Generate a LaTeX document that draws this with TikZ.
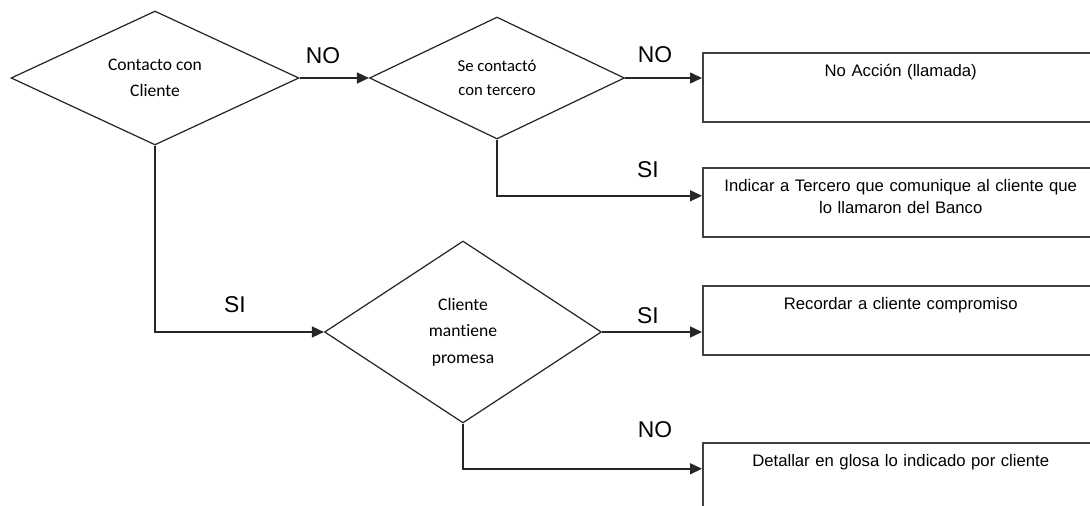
\documentclass[tikz,border=0pt]{standalone}
\usepackage{fontspec}
\setmainfont{Liberation Sans}
\newfontfamily\calibri[Ligatures=NoCommon]{Carlito}
\usetikzlibrary{positioning, arrows.meta, shapes.geometric, calc}

\begin{document}
\begin{tikzpicture}[x=0.02cm, y=-0.02cm]
    \tikzset{
      decision/.style={
        diamond, draw=black!85, line width=0.7pt,
        inner sep=0pt, aspect=2, align=center,
        font=\calibri\fontsize{10}{15}\selectfont
      },
      action/.style={
        rectangle, draw=black!75, line width=0.9pt,
        minimum width=7.92cm, inner sep=0pt,
        text width=7.8cm, align=center,
        text height=0.48cm, text depth=0.9cm,
        font=\fontsize{9.5}{12.5}\selectfont
      },
      answer/.style={font=\fontsize{13}{15}\selectfont},
      flow/.style={-{Triangle[length=2.4mm,width=2.2mm]}, line width=0.9pt, black!85}
    }
    \path[use as bounding box, clip] (0,0) rectangle (1090,506);

    % Decisions
    \node[decision, minimum width=5.76cm, minimum height=2.68cm] (contacto) at (155,78) {Contacto con\\Cliente};
    \node[decision, minimum width=5.1cm, minimum height=2.44cm,
          font=\calibri\fontsize{9.5}{13.5}\selectfont] (tercero) at (497,78) {Se contactó\\con tercero};
    \node[decision, minimum width=5.54cm, minimum height=3.64cm] (promesa) at (463,332) {Cliente\\mantiene\\promesa};

    % Actions
    \node[action, anchor=north west] (llamada) at (702,52) {No Acción (llamada)};
    \node[action, anchor=north west] (indicar) at (702,167) {Indicar a Tercero que comunique al cliente que\\lo llamaron del Banco};
    \node[action, anchor=north west] (recordar) at (702,285) {Recordar a cliente compromiso};
    \node[action, anchor=north west] (detallar) at (702,442) {Detallar en glosa lo indicado por cliente};

    % Answers
    \node[answer] (no1) at (323,56) {NO};
    \node[answer] (no2) at (655,55) {NO};
    \node[answer] (si1) at (648,170) {SI};
    \node[answer] (si2) at (235,305) {SI};
    \node[answer] (si3) at (648,316) {SI};
    \node[answer] (no3) at (655,430) {NO};

    \draw[flow] (contacto.east) -- (tercero.west);
    \draw[flow] (tercero.east) -- (tercero.east -| llamada.west);
    \draw[flow] (tercero.south) |- ([yshift=0.13cm]indicar.west);
    \draw[flow] (contacto.south) |- (promesa.west);
    \draw[flow] (promesa.east) -- (promesa.east -| recordar.west);
    \draw[flow] (promesa.south) |- ([yshift=0.17cm]detallar.west);
\end{tikzpicture}
\end{document}
